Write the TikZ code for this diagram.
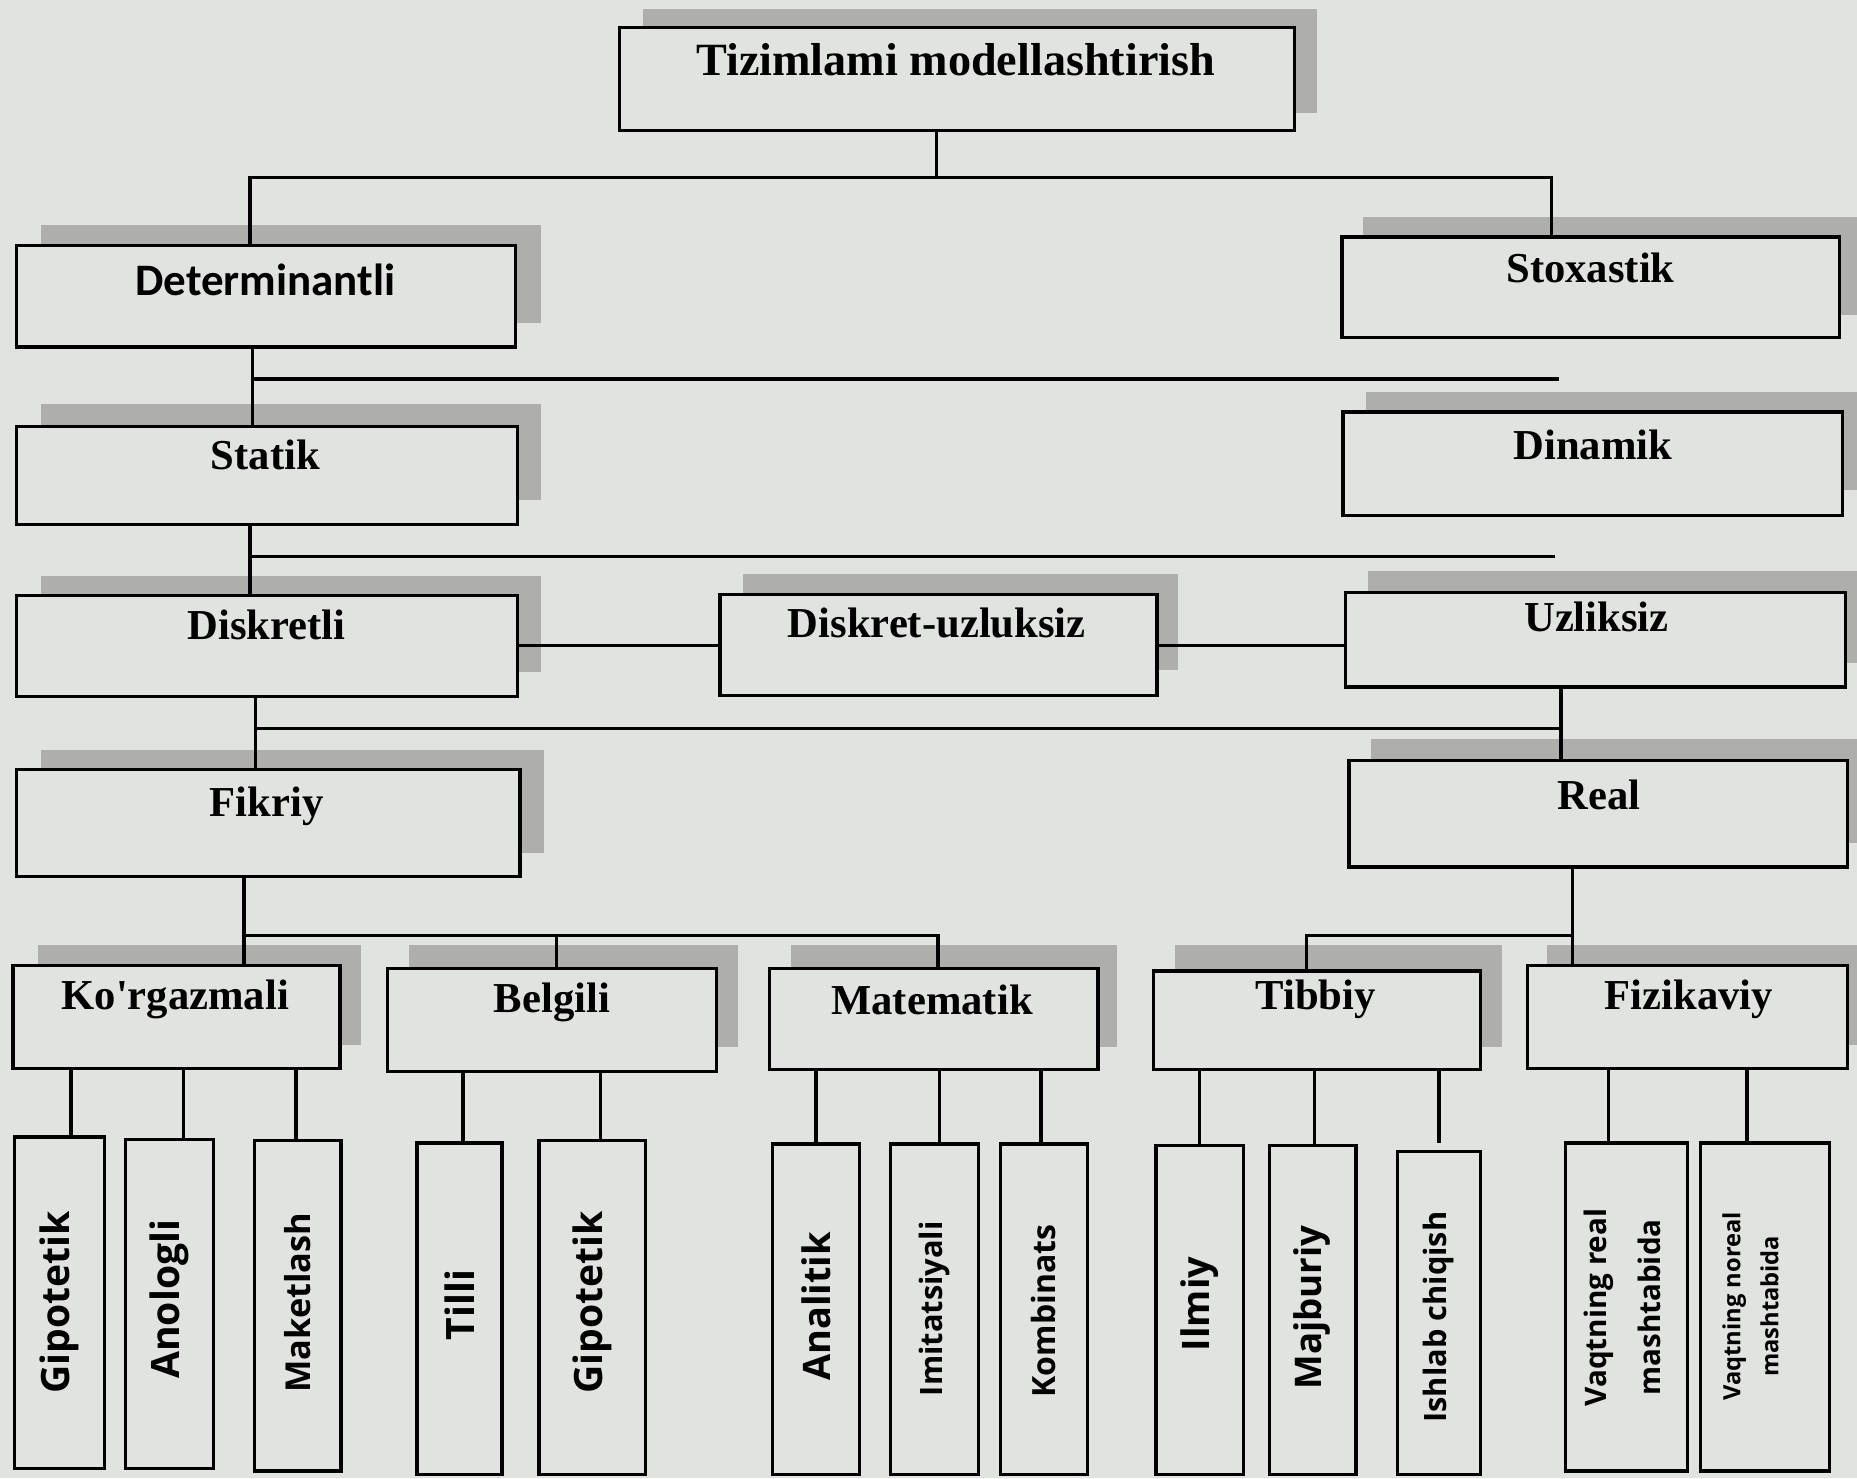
\documentclass[tikz,border=0pt]{standalone}
\usepackage{fontspec}
\setmainfont{Liberation Serif}[Ligatures=TeXOff]
\newfontfamily\detfont{Carlito}
\newfontfamily\vfont{Open Sans}
\usetikzlibrary{fit}
\definecolor{bgc}{HTML}{E1E3E0}
\definecolor{shc}{HTML}{AEAFAD}
\begin{document}
\begin{tikzpicture}[x=0.5pt,y=-0.5pt,
  boxst/.style={draw=black, line width=1.4pt, fill=bgc, inner sep=0pt},
  lbl/.style={font=\fontsize{18}{20}\selectfont\bfseries, inner sep=0pt},
  vlbl/.style={rotate=90, inner sep=0pt, align=center},
  wire/.style={line width=1.4pt, line cap=rect, line join=miter},
  shd/.style={fill=shc}]
\fill[bgc] (0,0) rectangle (1568,1248);
\useasboundingbox (0,0) rectangle (1568,1248);
% shadows
\fill[shd] (543,8) rectangle (1112,95);
\fill[shd] (35,190) rectangle (457,273);
\fill[shd] (1151,183) rectangle (1571,266);
\fill[shd] (35,341) rectangle (457,422);
\fill[shd] (1153,331) rectangle (1571,414);
\fill[shd] (35,486) rectangle (457,567);
\fill[shd] (627,485) rectangle (995,566);
\fill[shd] (1155,482) rectangle (1571,560);
\fill[shd] (35,633) rectangle (459,720);
\fill[shd] (1158,624) rectangle (1571,712);
\fill[shd] (32,798) rectangle (305,882);
\fill[shd] (345,798) rectangle (623,884);
\fill[shd] (668,798) rectangle (943,884);
\fill[shd] (992,798) rectangle (1268,884);
\fill[shd] (1306,798) rectangle (1571,882);
% main boxes
\node[boxst, fit={(523,23) (1093,110)}] (title) {};
\node[boxst, fit={(14,207) (435,293)}] (det) {};
\node[boxst, fit={(1133,200) (1553,285)}] (sto) {};
\node[boxst, fit={(14,360) (437,443)}] (sta) {};
\node[boxst, fit={(1134,348) (1556,435)}] (din) {};
\node[boxst, fit={(14,503) (437,588)}] (dis) {};
\node[boxst, fit={(608,502) (977,587)}] (du) {};
\node[boxst, fit={(1136,500) (1558,580)}] (uzl) {};
\node[boxst, fit={(14,650) (439,740)}] (fik) {};
\node[boxst, fit={(1139,642) (1560,732)}] (real) {};
\node[boxst, fit={(11,815) (287,902)}] (kor) {};
\node[boxst, fit={(327,818) (605,905)}] (bel) {};
\node[boxst, fit={(650,818) (927,903)}] (mat) {};
\node[boxst, fit={(974,820) (1250,903)}] (tib) {};
\node[boxst, fit={(1290,815) (1560,902)}] (fiz) {};
% labels
\node[lbl, font=\fontsize{19.5}{21}\selectfont\bfseries] (title-l) at (807,50) {Tizimlami modellashtirish};
\node[lbl, font=\fontsize{19}{21}\selectfont\detfont\bfseries] (det-l) at (224,236) {Determinantli};
\node[lbl] (sto-l) at (1343,226) {Stoxastik};
\node[lbl] (sta-l) at (224,384) {Statik};
\node[lbl] (din-l) at (1345,376) {Dinamik};
\node[lbl] (dis-l) at (225,528) {Diskretli};
\node[lbl] (du-l) at (791,526) {Diskret-uzluksiz};
\node[lbl] (uzl-l) at (1348,521) {Uzliksiz};
\node[lbl] (fik-l) at (225,681) {Fikriy};
\node[lbl] (real-l) at (1350,671) {Real};
\node[lbl] (kor-l) at (148,844) {Ko'rgazmali};
\node[lbl] (bel-l) at (466,846) {Belgili};
\node[lbl] (mat-l) at (787,844) {Matematik};
\node[lbl] (tib-l) at (1111,844) {Tibbiy};
\node[lbl] (fiz-l) at (1426,844) {Fizikaviy};
% bottom boxes
\node[boxst, fit={(12,960) (88,1240)}] (g1) {};
\node[boxst, fit={(106,962) (180,1240)}] (g2) {};
\node[boxst, fit={(215,963) (288,1242)}] (g3) {};
\node[boxst, fit={(352,965) (424,1245)}] (g4) {};
\node[boxst, fit={(455,963) (545,1245)}] (g5) {};
\node[boxst, fit={(652,966) (726,1245)}] (g6) {};
\node[boxst, fit={(752,966) (826,1245)}] (g7) {};
\node[boxst, fit={(845,966) (918,1245)}] (g8) {};
\node[boxst, fit={(976,967) (1050,1245)}] (g9) {};
\node[boxst, fit={(1072,967) (1145,1245)}] (g10) {};
\node[boxst, fit={(1180,972) (1250,1245)}] (g11) {};
\node[boxst, fit={(1322,965) (1425,1242)}] (g12) {};
\node[boxst, fit={(1436,965) (1545,1242)}] (g13) {};
% vertical labels
\node[vlbl, font=\fontsize{16.5}{18}\selectfont\vfont\bfseries] (g1-l) at (50,1100) {Gipotetik};
\node[vlbl, font=\fontsize{16.5}{18}\selectfont\vfont\bfseries] (g2-l) at (143,1097) {Anologli};
\node[vlbl, font=\fontsize{14.5}{16}\selectfont\vfont\bfseries] (g3-l) at (251,1100) {Maketlash};
\node[vlbl, font=\fontsize{16.5}{18}\selectfont\vfont\bfseries] (g4-l) at (388,1102) {Tilli};
\node[vlbl, font=\fontsize{16.5}{18}\selectfont\vfont\bfseries] (g5-l) at (500,1100) {Gipotetik};
\node[vlbl, font=\fontsize{16}{18}\selectfont\vfont\bfseries] (g6-l) at (689,1103) {Analitik};
\node[vlbl, font=\fontsize{13}{15}\selectfont\vfont\bfseries] (g7-l) at (789,1105) {Imitatsiyali};
\node[vlbl, font=\fontsize{13.5}{15}\selectfont\vfont\bfseries] (g8-l) at (881,1107) {Kombinats};
\node[vlbl, font=\fontsize{16}{18}\selectfont\vfont\bfseries] (g9-l) at (1013,1101) {Ilmiy};
\node[vlbl, font=\fontsize{15.5}{17}\selectfont\vfont\bfseries] (g10-l) at (1108,1104) {Majburiy};
\node[vlbl, font=\fontsize{13}{15}\selectfont\vfont\bfseries] (g11-l) at (1215,1112) {Ishlab chiqish};
\node[vlbl, font=\fontsize{12.5}{23}\selectfont\vfont\bfseries] (g12-l) at (1370,1104) {Vaqtning real\\mashtabida};
\node[vlbl, font=\fontsize{10}{16}\selectfont\vfont\bfseries] (g13-l) at (1478,1103) {Vaqtning noreal\\mashtabida};
% connectors
\coordinate (j0) at (791,150);
\coordinate (j0L) at (211,150);
\coordinate (j0R) at (1310,150);
\draw[wire] (j0 |- title.south) -- (j0);
\draw[wire] (j0L |- det.north) -- (j0L) -- (j0R) -- (j0R |- sto.north);
\coordinate (j1L) at (213,320);
\coordinate (j1R) at (1315,320);
\draw[wire] (j1L |- det.south) -- (j1L |- sta.north);
\draw[wire] (j1L) -- (j1R);
\coordinate (j2L) at (211,470);
\coordinate (j2R) at (1312,470);
\draw[wire] (j2L |- sta.south) -- (j2L |- dis.north);
\draw[wire] (j2L) -- (j2R);
\coordinate (j3) at (0,545);
\draw[wire] (dis.east |- j3) -- (du.west |- j3);
\draw[wire] (du.east |- j3) -- (uzl.west |- j3);
\coordinate (j4L) at (216,615);
\coordinate (j4R) at (1318,615);
\draw[wire] (j4L |- dis.south) -- (j4L |- fik.north);
\draw[wire] (j4L) -- (j4R);
\draw[wire] (j4R |- uzl.south) -- (j4R |- real.north);
\coordinate (j5L) at (206,790);
\coordinate (j5M) at (470,790);
\coordinate (j5R) at (792,790);
\draw[wire] (j5L |- fik.south) -- (j5L |- kor.north);
\draw[wire] (j5L) -- (j5R) -- (j5R |- mat.north);
\draw[wire] (j5M) -- (j5M |- bel.north);
\coordinate (j6L) at (1103,790);
\coordinate (j6R) at (1328,790);
\draw[wire] (j6R |- real.south) -- (j6R |- fiz.north);
\draw[wire] (j6L |- tib.north) -- (j6L) -- (j6R);
% children connectors
\draw[wire] ([xshift=5pt]g1.north) -- ([xshift=5pt]g1.north |- kor.south);
\draw[wire] ([xshift=6pt]g2.north) -- ([xshift=6pt]g2.north |- kor.south);
\draw[wire] ([xshift=-0.75pt]g3.north) -- ([xshift=-0.75pt]g3.north |- kor.south);
\draw[wire] ([xshift=1.5pt]g4.north) -- ([xshift=1.5pt]g4.north |- bel.south);
\draw[wire] ([xshift=3.5pt]g5.north) -- ([xshift=3.5pt]g5.north |- bel.south);
\draw[wire] (g6.north) -- (g6.north |- mat.south);
\draw[wire] ([xshift=2pt]g7.north) -- ([xshift=2pt]g7.north |- mat.south);
\draw[wire] ([xshift=-1.25pt]g8.north) -- ([xshift=-1.25pt]g8.north |- mat.south);
\draw[wire] (g9.north) -- (g9.north |- tib.south);
\draw[wire] ([xshift=0.75pt]g10.north) -- ([xshift=0.75pt]g10.north |- tib.south);
\draw[wire] ([yshift=3.5pt]g11.north) -- (g11.north |- tib.south);
\draw[wire] ([xshift=-7.75pt]g12.north) -- ([xshift=-7.75pt]g12.north |- fiz.south);
\draw[wire] ([xshift=-7.75pt]g13.north) -- ([xshift=-7.75pt]g13.north |- fiz.south);
\end{tikzpicture}
\end{document}
